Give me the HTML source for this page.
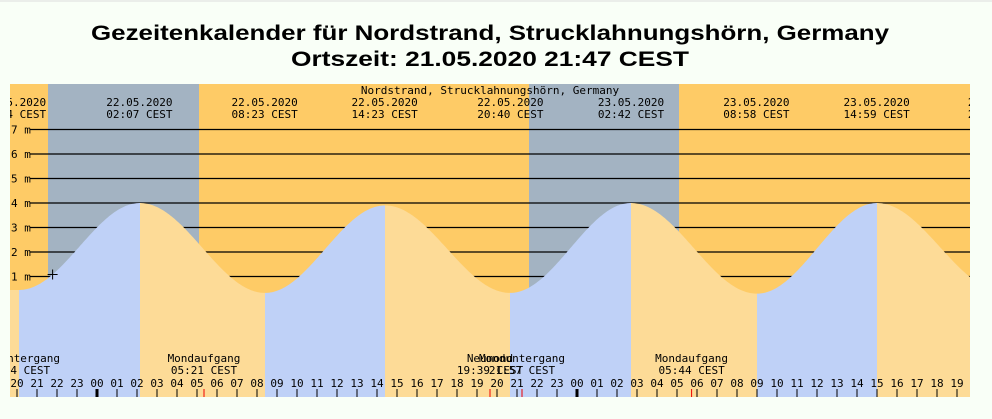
<!DOCTYPE html>
<html><head><meta charset="utf-8">
<style>
html,body{margin:0;padding:0;background:#f9fff7;}
svg{display:block;}
.mono{font-family:"DejaVu Sans Mono","Liberation Mono",monospace;font-size:11px;fill:#000;}
</style></head>
<body>
<svg id="chart" width="992" height="419" viewBox="0 0 992 419" xmlns="http://www.w3.org/2000/svg">
<line x1="0" y1="1" x2="992" y2="1" stroke="#ddd"/>
<text x="490" y="40" text-anchor="middle" textLength="798" lengthAdjust="spacingAndGlyphs" style="font:bold 21px 'Liberation Sans',sans-serif">Gezeitenkalender für Nordstrand, Strucklahnungshörn, Germany</text>
<text x="490" y="66" text-anchor="middle" textLength="398" lengthAdjust="spacingAndGlyphs" style="font:bold 21px 'Liberation Sans',sans-serif">Ortszeit: 21.05.2020 21:47 CEST</text>
<defs><clipPath id="plotclip"><rect x="10" y="84" width="960" height="313"/></clipPath></defs>
<g id="plot" clip-path="url(#plotclip)"></g>
</svg>
<script>
// Data
const tideHours = [-3.9, 2.15, 8.4, 14.4, 20.65, 26.7, 33.0, 39.0, 45.3];
const tideHeights = [0.45, 4.0, 0.33, 3.9, 0.33, 4.0, 0.3, 4.0, 0.4];
const nightStart = [-2.45, 21.6];
const nightEnd = [5.1, 29.1];
const tideLabelHours = [-4.2, 2.12, 8.38, 14.38, 20.67, 26.7, 32.97, 38.98, 45.2];
const tideLabelDates = ["21.05.2020","22.05.2020","22.05.2020","22.05.2020","22.05.2020","23.05.2020","23.05.2020","23.05.2020","23.05.2020"];
const tideLabelTimes = ["20:04 CEST","02:07 CEST","08:23 CEST","14:23 CEST","20:40 CEST","02:42 CEST","08:58 CEST","14:59 CEST","21:17 CEST"];
const moonHours = [-4.0, 5.35, 19.65, 21.25, 29.73];
const moonNames = ["Monduntergang","Mondaufgang","Neumond","Monduntergang","Mondaufgang"];
const moonTimes = ["20:04 CEST","05:21 CEST","19:39 CEST","21:57 CEST","05:44 CEST"];
const yTicks = [7,6,5,4,3,2,1,0,-1];
const hourTicks = [];
for (let h = -4; h <= 43; h++) hourTicks.push(h);

// Axes
const xOf = h => 97 + 20 * h;
const yOf = m => 301 - 24.5 * m;
const NS = "http://www.w3.org/2000/svg";
const plot = document.getElementById('plot');
function mk(tag, attrs, parent) {
  const e = document.createElementNS(NS, tag);
  for (const k in attrs) e.setAttribute(k, attrs[k]);
  (parent || plot).appendChild(e);
  return e;
}
function level(h) {
  for (let i = 0; i < tideHours.length - 1; i++) {
    if (h >= tideHours[i] && h <= tideHours[i + 1]) {
      const t = (h - tideHours[i]) / (tideHours[i + 1] - tideHours[i]);
      const a = tideHeights[i], b = tideHeights[i + 1];
      return a + (b - a) * (1 - Math.cos(Math.PI * t)) / 2;
    }
  }
  return h < tideHours[0] ? tideHeights[0] : tideHeights[tideHeights.length - 1];
}

// background
let bg = mk('rect', {x:10, y:84, width:960, height:313, fill:'#fecb66'});


for (let i = 0; i < nightStart.length; i++) {
  const r = mk('rect', {x:xOf(nightStart[i]), y:84, width:xOf(nightEnd[i]) - xOf(nightStart[i]), height:313, fill:'#a3b3c2'});
  
  
}
// grid lines
yTicks.forEach(m => {
  if (m >= 1) {
    const l = mk('line', {x1:30, x2:970, y1:yOf(m), y2:yOf(m), stroke:'#000', 'stroke-width':1.3});
    
    
  }
  const t = mk('text', {x:11, y:yOf(m) + 4, class:'mono'});
  t.textContent = (m < 0 ? m : ' ' + m) + ' m';
  t.setAttribute('xml:space', 'preserve');
  
  
});
// tide fill segments
const hStart = (10 - 97) / 20, hEnd = (970 - 97) / 20;
for (let i = -1; i < tideHours.length; i++) {
  const a = Math.max(i < 0 ? hStart : tideHours[i], hStart);
  const b = Math.min(i + 1 < tideHours.length ? tideHours[i + 1] : hEnd, hEnd);
  if (b <= a) continue;
  const rising = i >= 0 && i + 1 < tideHours.length ? tideHeights[i + 1] > tideHeights[i] : (i < 0 ? false : true);
  let pts = [];
  for (let h = a; h <= b + 1e-6; h += 0.05) pts.push(xOf(h).toFixed(1) + ',' + yOf(level(h)).toFixed(1));
  pts.push(xOf(b).toFixed(1) + ',' + yOf(level(b)).toFixed(1));
  pts.push(xOf(b).toFixed(1) + ',397', xOf(a).toFixed(1) + ',397');
  const p = mk('polygon', {points:pts.join(' '), fill: rising ? '#bfd1f7' : '#fddb97'});
  
  
}
// current-time marker
const cx = xOf(-2.22), cy = yOf(level(-2.22)) ;
const cross = mk('path', {d:`M${cx-5} ${cy}h10M${cx} ${cy-5}v10`, stroke:'#000', 'stroke-width':1});


// location title
const loc = mk('text', {x:490, y:94, 'text-anchor':'middle', class:'mono'});
loc.textContent = 'Nordstrand, Strucklahnungshörn, Germany';


// tide labels
tideLabelHours.forEach((h, i) => {
  const t1 = mk('text', {x:xOf(h), y:106, 'text-anchor':'middle', class:'mono'});
  t1.textContent = tideLabelDates[i];
  
  
  const t2 = mk('text', {x:xOf(h), y:118, 'text-anchor':'middle', class:'mono'});
  t2.textContent = tideLabelTimes[i];
  
  
});
// moon labels
moonHours.forEach((h, i) => {
  const t1 = mk('text', {x:xOf(h), y:362, 'text-anchor':'middle', class:'mono'});
  t1.textContent = moonNames[i];
  
  
  const t2 = mk('text', {x:xOf(h), y:374, 'text-anchor':'middle', class:'mono'});
  t2.textContent = moonTimes[i];
  
  
  const tk = mk('line', {x1:xOf(h), x2:xOf(h), y1:389, y2:397, stroke:'#e00', 'stroke-width':1});
  
  
});
// hour ticks
hourTicks.forEach(h => {
  const hh = ((h % 24) + 24) % 24;
  const t = mk('text', {x:xOf(h), y:387, 'text-anchor':'middle', class:'mono'});
  t.textContent = (hh < 10 ? '0' : '') + hh;
  
  
  const tk = mk('line', {x1:xOf(h), x2:xOf(h), y1:389, y2:397, stroke:'#000', 'stroke-width': hh === 0 ? 3 : 1});
  
  
});
</script>
</body></html>
